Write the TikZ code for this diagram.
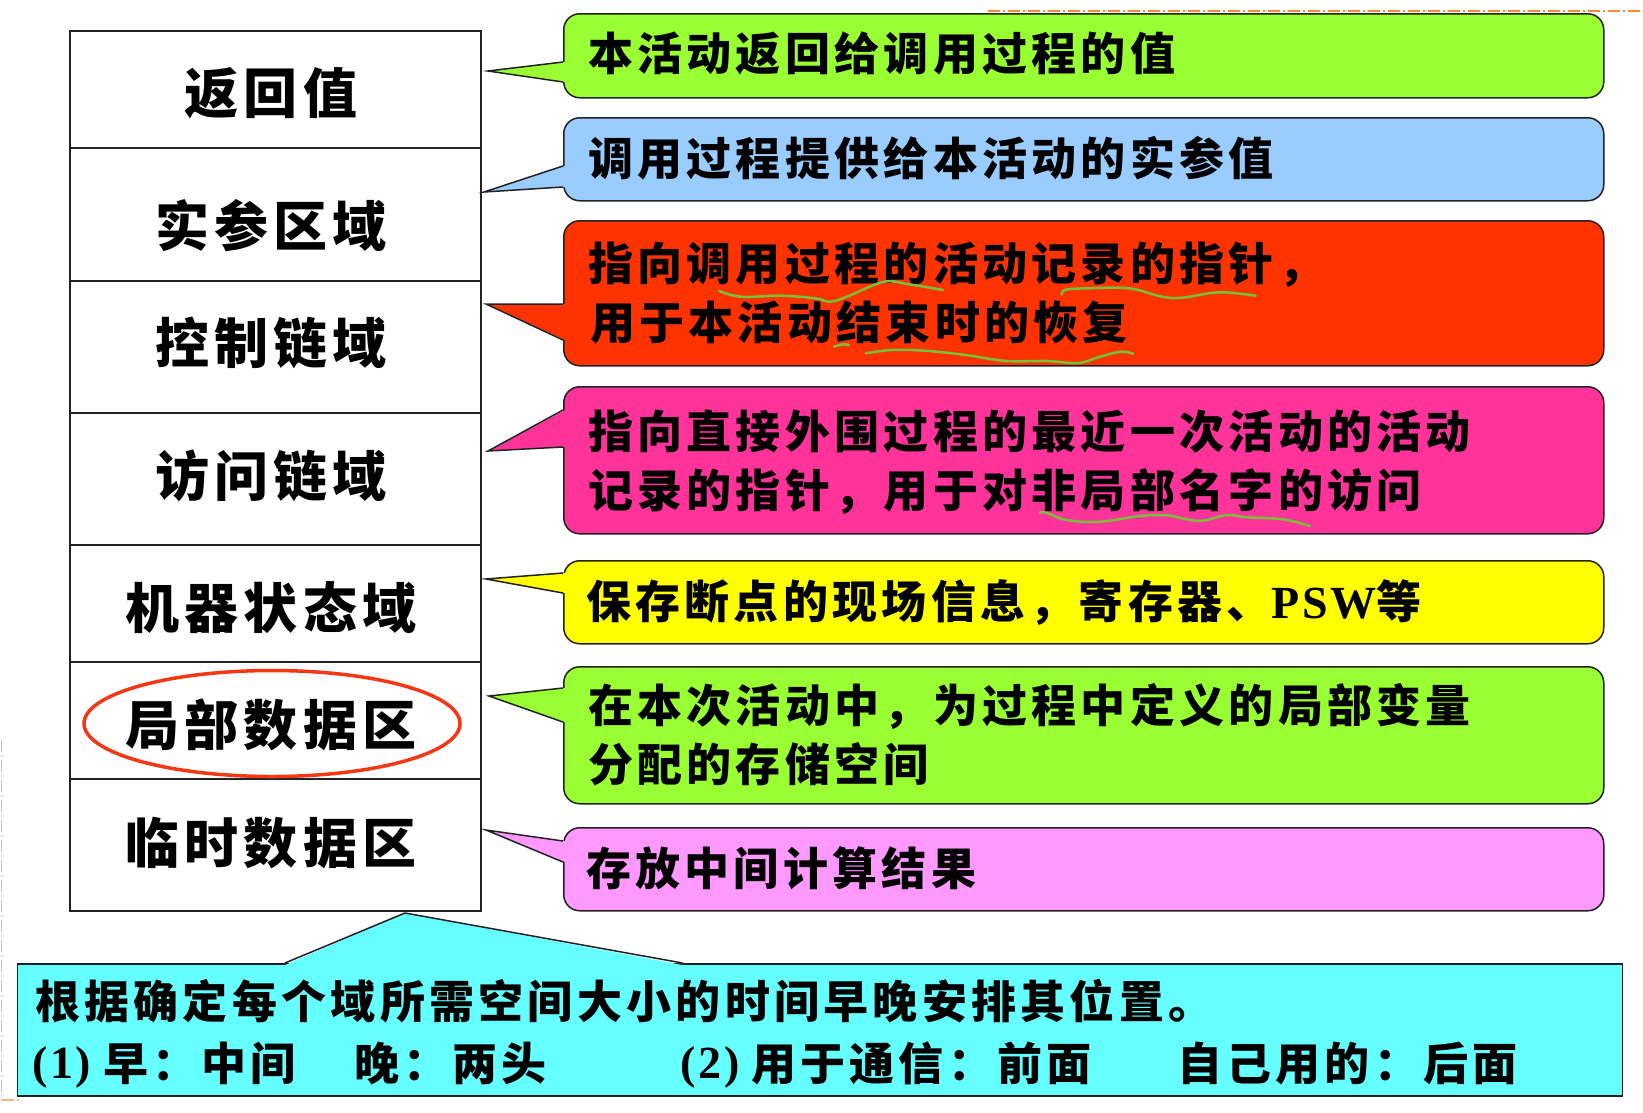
\documentclass[tikz,border=0pt]{standalone}
\usepackage{fontspec}
\newfontfamily\cjk{Noto Sans CJK SC}[LetterSpace=9.5]
\newfontfamily\tms{Liberation Serif}[LetterSpace=6]

\definecolor{linecol}{RGB}{34,34,34}
\definecolor{cgreen}{RGB}{153,255,51}
\definecolor{cblue}{RGB}{153,204,255}
\definecolor{cred}{RGB}{255,51,0}
\definecolor{cpink}{RGB}{255,51,153}
\definecolor{cyellow}{RGB}{255,255,0}
\definecolor{cmagenta}{RGB}{255,153,255}
\definecolor{ccyan}{RGB}{102,255,255}
\definecolor{ringcol}{RGB}{245,55,20}
\definecolor{squigcol}{RGB}{118,192,58}
\definecolor{guidecol}{RGB}{255,135,55}
\definecolor{guidelight}{RGB}{255,180,125}

\tikzset{
  cell/.style={draw=linecol, line width=1.5pt, fill=white, minimum width=411pt,
    anchor=north west, inner sep=0pt},
  callbox/.style={draw=linecol, line width=1.5pt, rounded corners=16pt,
    minimum width=1040pt, anchor=north west, inner sep=0pt},
  ptr/.style={draw=linecol, line width=1.5pt, line join=miter},
  lbl/.style={anchor=base, inner sep=0pt, font=\cjk\bfseries\fontsize{54}{60}\selectfont},
  txt/.style={anchor=base west, inner sep=0pt, font=\cjk\bfseries\fontsize{45}{54}\selectfont},
  squig/.style={draw=squigcol, line width=2.5pt, line cap=round, line join=round},
  guide/.style={line width=1.5pt, dash pattern=on 12pt off 3pt on 2pt off 3pt},
}

% #1 name, #2 colour, #3 top, #4 height, #5 tip x, #6 tip y, #7 base top, #8 base bottom
\newcommand\mkcallout[8]{%
  \node[callbox, fill=#2, minimum height=#4pt] (#1) at (563,#3) {};
  \coordinate (#1tip) at (#5,#6);
  \fill[#2] (565,#7) -- (#1tip) -- (565,#8) -- cycle;
  \draw[ptr] (563,#7) -- (#1tip) -- (563,#8);
}
\newcommand\latinbold[1]{{\tms\bfseries\fontsize{46}{54}\selectfont #1}}

\begin{document}
\begin{tikzpicture}[x=1pt,y=-1pt]
\useasboundingbox (0,0) rectangle (1643,1112);
\fill[white] (0,0) rectangle (1643,1112);

% guide lines along the page edges
\draw[guide, guidecol] (988,11) -- (1643,11);
\draw[guide, guidelight] (1.5,740) -- (1.5,1100) -- (20,1100);

% activation record fields
\node[cell, minimum height=117pt] (r1) at (69,30) {};
\node[cell, minimum height=133pt] (r2) at (69,147) {};
\node[cell, minimum height=132pt] (r3) at (69,280) {};
\node[cell, minimum height=132pt] (r4) at (69,412) {};
\node[cell, minimum height=117pt] (r5) at (69,544) {};
\node[cell, minimum height=117pt] (r6) at (69,661) {};
\node[cell, minimum height=132pt] (r7) at (69,778) {};

\node[lbl] (l1) at (271,113.5) {返回值};
\node[lbl] (l2) at (271,246.5) {实参区域};
\node[lbl] (l3) at (271,363.5) {控制链域};
\node[lbl] (l4) at (271,496.5) {访问链域};
\node[lbl] (l5) at (271,628.5) {机器状态域};
\node[lbl] (l6) at (271,745.5) {局部数据区};
\node[lbl] (l7) at (271,863.5) {临时数据区};

\draw[ringcol, line width=3.5pt] (272,723.5) ellipse [x radius=188, y radius=53];

% explanations
\mkcallout{c1}{cgreen}{13}{84}{488}{71}{62}{82}
\mkcallout{c2}{cblue}{117}{83}{484}{192}{166}{187}
\mkcallout{c3}{cred}{220}{145}{486}{304}{304}{340}
\mkcallout{c4}{cpink}{386}{147}{488}{451}{410}{447}
\mkcallout{c5}{cyellow}{560}{83}{486}{579}{573}{593}
\mkcallout{c6}{cgreen}{666}{137}{489}{696}{688}{722}
\mkcallout{c7}{cmagenta}{827}{83}{486}{830}{841}{862}

\node[txt] (t1) at (588,70.6) {本活动返回给调用过程的值};
\node[txt] (t2) at (588,175.6) {调用过程提供给本活动的实参值};
\node[txt] (t3a) at (588,280) {指向调用过程的活动记录的指针，};
\node[txt] (t3b) at (590,339) {用于本活动结束时的恢复};
\node[txt] (t4a) at (588,448.8) {指向直接外围过程的最近一次活动的活动};
\node[txt] (t4b) at (588,507) {记录的指针，用于对非局部名字的访问};
\node[txt] (t5) at (586,618) {保存断点的现场信息，寄存器、\latinbold{PSW}等};
\node[txt] (t6a) at (588,722) {在本次活动中，为过程中定义的局部变量};
\node[txt] (t6b) at (588,781) {分配的存储空间};
\node[txt] (t7) at (586,885) {存放中间计算结果};

% hand-drawn marks
\draw[squig] plot[smooth, tension=0.6] coordinates {(719,291) (741,296.7) (782,295.7) (815,298.3) (831,301.7) (851,295) (884,281.7) (909,284.3) (943,290)};
\draw[squig] plot[smooth, tension=0.6] coordinates {(1061.6,294.3) (1065.7,289.7) (1088,288.3) (1129,288.3) (1162,296.7) (1182,297.7) (1219,292.3) (1255.5,295.7)};
\draw[squig] plot[smooth, tension=0.6] coordinates {(834,346.7) (843,344.3) (849,345)};
\draw[squig] plot[smooth, tension=0.6] coordinates {(865.7,353.3) (892,350) (925,350.7) (965.7,355) (1006.5,361) (1047,361) (1078,363) (1100,356.7) (1120.8,351.7) (1133,353.7)};
\draw[squig] plot[smooth, tension=0.6] coordinates {(1040,513.3) (1045,512.3) (1066.7,520) (1100,521.7) (1140,516) (1166.7,515.3) (1186.7,519.3) (1203,520.7) (1226.7,515) (1246.7,517.3) (1283,519.3) (1310,526)};

% summary box
\node[draw=linecol, line width=1.5pt, fill=ccyan, minimum width=1605pt, minimum height=132pt,
  anchor=north west, inner sep=0pt] (note) at (16.7,963) {};
\coordinate (notetip) at (405,913);
\fill[ccyan] (285,965) -- (notetip) -- (682.5,965) -- cycle;
\draw[ptr] (285,963) -- (notetip) -- (682.5,963);

\node[txt] (n1) at (35,1018) {根据确定每个域所需空间大小的时间早晚安排其位置。};
\node[txt] (n2a) at (32,1078) {\latinbold{(1)}};
\node[txt] (n2b) at (103,1080) {早：中间};
\node[txt] (n2c) at (354,1080) {晚：两头};
\node[txt] (n2d) at (680,1078) {\latinbold{(2)}};
\node[txt] (n2e) at (751,1080) {用于通信：前面};
\node[txt] (n2f) at (1177,1080) {自己用的：后面};
\end{tikzpicture}
\end{document}
